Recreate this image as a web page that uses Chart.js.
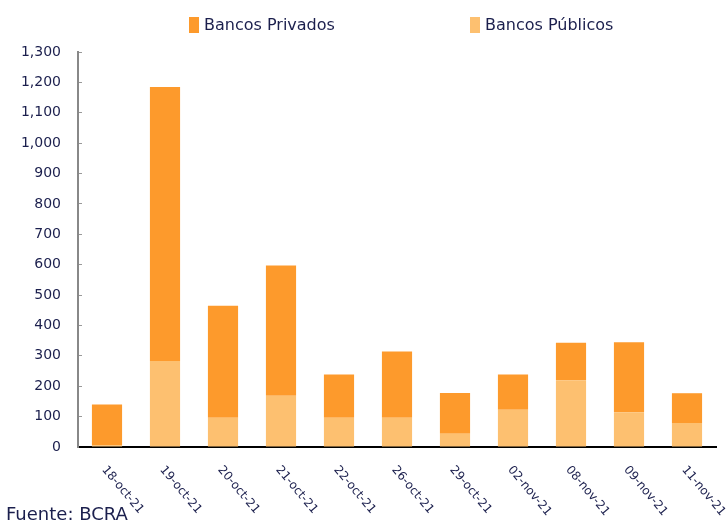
<!DOCTYPE html>
<html>
<head>
<meta charset="utf-8">
<script src="https://cdn.jsdelivr.net/npm/chart.js@4/dist/chart.umd.min.js"></script>
<style>
  html, body { margin: 0; padding: 0; background: #fff; }
  #wrap { position: relative; width: 728px; height: 528px; font-family: "DejaVu Sans", sans-serif; color: #1b1f4d; }
  #chart { position: absolute; left: 0; top: 0; }
  .leg { position: absolute; top: 16px; font-size: 16px; line-height: 18px; white-space: nowrap; }
  .leg i { display: inline-block; width: 10px; height: 16px; vertical-align: -3px; margin-right: 5px; }
  #src { position: absolute; left: 6px; top: 503px; font-size: 18px; line-height: 22px; }
</style>
</head>
<body>
<div id="wrap">
  <canvas id="chart" width="728" height="528"></canvas>
  <div class="leg" style="left:189px"><i style="background:#fd9a2c"></i>Bancos Privados</div>
  <div class="leg" style="left:470px"><i style="background:#fdc070"></i>Bancos Públicos</div>
  <div id="src">Fuente: BCRA</div>
</div>
<script>
// Dates of the operations
const fechas = ['18-oct-21', '19-oct-21', '20-oct-21', '21-oct-21', '22-oct-21', '26-oct-21',
  '29-oct-21', '02-nov-21', '08-nov-21', '09-nov-21', '11-nov-21'];

// Stacked amounts
const bancosPublicos = [6, 283, 96, 169, 96, 96, 44, 123, 220, 114, 79];
const bancosPrivados = [134, 902, 369, 428, 143, 218, 134, 116, 123, 231, 98];

// y axis range
const yMax = 1300;
const yStep = 100;

const navy = '#1b1f4d';

// category axis whose rotated labels hang down to the right of the tick
class SlantCategory extends Chart.CategoryScale {
  _getXAxisLabelAlignment() { return 'left'; }
}
SlantCategory.id = 'slantCategory';
SlantCategory.defaults = Chart.CategoryScale.defaults;
Chart.register(SlantCategory);

new Chart(document.getElementById('chart'), {
  type: 'bar',
  data: {
    labels: fechas,
    datasets: [
      { label: 'Bancos Públicos', data: bancosPublicos, backgroundColor: '#fdc070' },
      { label: 'Bancos Privados', data: bancosPrivados, backgroundColor: '#fd9a2c' }
    ]
  },
  options: {
    responsive: false,
    animation: false,
    categoryPercentage: 1,
    barPercentage: 0.52,
    layout: { padding: { top: 52, right: 12, left: 0, bottom: 0 } },
    plugins: { legend: { display: false }, tooltip: { enabled: false } },
    scales: {
      x: {
        type: 'slantCategory',
        offset: true,
        stacked: true,
        grid: { display: false },
        border: { display: true, color: '#000', width: 2 },
        ticks: {
          autoSkip: false,
          minRotation: -50,
          maxRotation: -50,
          padding: 8,
          labelOffset: -3,
          color: navy,
          font: { family: 'DejaVu Sans', size: 12 }
        },
        afterFit: (s) => { s.height = 81; }
      },
      y: {
        stacked: true,
        min: 0,
        max: yMax,
        grid: { drawOnChartArea: false, drawTicks: true, tickLength: -4, color: '#999' },
        border: { display: true, color: '#888', width: 2 },
        ticks: {
          stepSize: yStep,
          padding: 21,
          color: navy,
          font: { family: 'DejaVu Sans', size: 14 }
        },
        afterFit: (s) => { s.width = 78; }
      }
    }
  }
});
</script>
</body>
</html>
